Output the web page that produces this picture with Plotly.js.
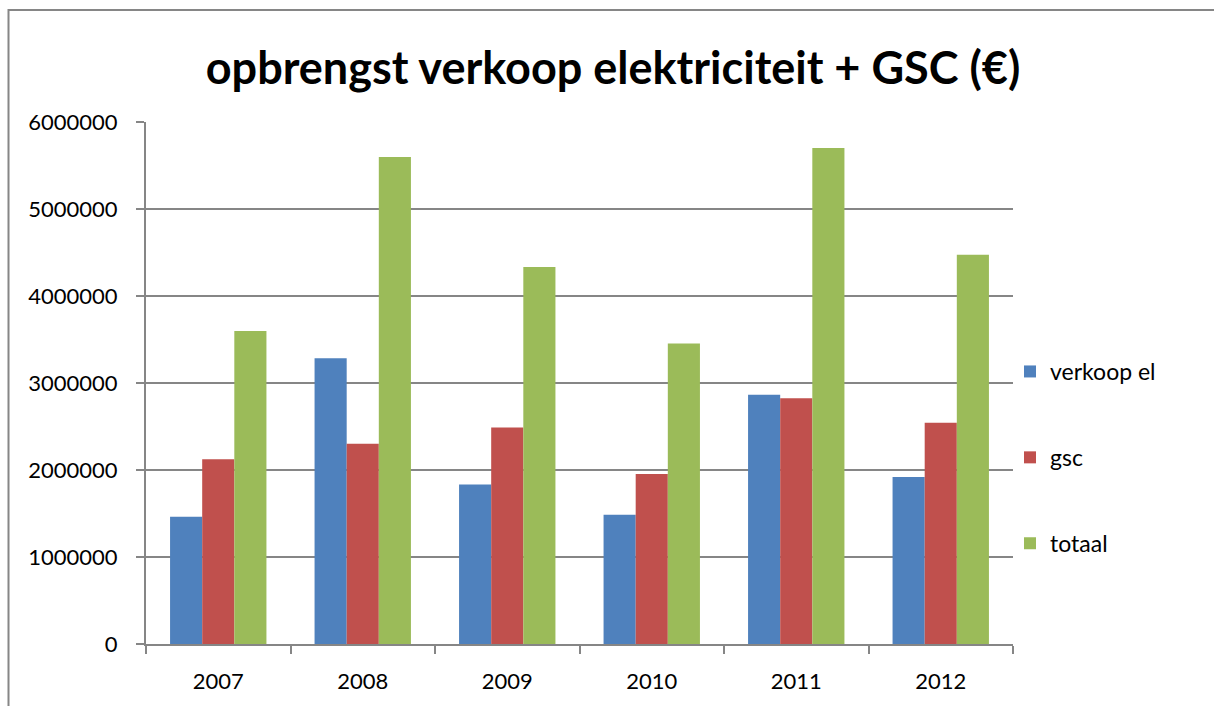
<!DOCTYPE html>
<html>
<head>
<meta charset="utf-8">
<script src="https://cdn.plot.ly/plotly-3.0.1.min.js"></script>
<style>html,body{margin:0;padding:0;background:#fff;}#chart{width:1214px;height:706px;}</style>
</head>
<body>
<div id="chart"></div>
<script>
const years = ["2007", "2008", "2009", "2010", "2011", "2012"];
const verkoopEl = [1462000, 3285000, 1834000, 1485000, 2864000, 1919000];
const gsc = [2125000, 2301000, 2488000, 1953000, 2824000, 2543000];
const totaal = [3599000, 5598000, 4334000, 3453000, 5700000, 4474000];
const seriesNames = ["verkoop el", "gsc", "totaal"];
const yTicks = [0, 1000000, 2000000, 3000000, 4000000, 5000000, 6000000];

const colors = ["#4F81BD", "#C0504D", "#9BBB59"];
const seriesData = [verkoopEl, gsc, totaal];

const traces = seriesData.map((vals, i) => ({
  type: "bar",
  name: seriesNames[i],
  x: years,
  y: vals,
  legendgroup: "g" + i,
  marker: {color: colors[i], line: {width: 0}},
  hoverinfo: "x+y+name"
}));

const W = 1214, H = 706;
const L = 146, R = 1013, T = 122, B = 644;
const pw = R - L, ph = B - T;
const px = v => (v - L) / pw;
const py = v => (B - v) / ph;
const FONT = "Lato, 'Open Sans', sans-serif";

const layout = {
  width: W, height: H,
  margin: {l: L, r: W - R, t: T, b: H - B, pad: 0},
  paper_bgcolor: "#ffffff",
  plot_bgcolor: "#ffffff",
  font: {family: FONT, color: "#000000", size: 22},
  title: {
    text: "<b>opbrengst verkoop elektriciteit + GSC (€)</b>",
    font: {family: FONT, size: 45, color: "#000"},
    x: 613 / W, xanchor: "center", xref: "container",
    y: 1 - 68 / H, yanchor: "middle", yref: "container"
  },
  barmode: "group",
  bargap: 0.333,
  bargroupgap: 0,
  xaxis: {
    type: "category",
    tickson: "boundaries",
    ticks: "outside",
    ticklen: 8,
    tickcolor: "#868686",
    tickwidth: 2,
    showline: true,
    linecolor: "#868686",
    linewidth: 2,
    showgrid: false,
    ticklabelstandoff: 17,
    tickfont: {size: 22, family: FONT},
    fixedrange: true
  },
  yaxis: {
    range: [0, 6000000],
    tickvals: yTicks,
    ticktext: yTicks.map(v => String(v)),
    ticks: "outside",
    ticklen: 8,
    tickcolor: "#868686",
    tickwidth: 2,
    showline: true,
    linecolor: "#868686",
    linewidth: 2,
    showgrid: true,
    gridcolor: "#868686",
    gridwidth: 2,
    zeroline: false,
    ticklabelstandoff: 14,
    tickfont: {size: 22, family: FONT},
    fixedrange: true
  },
  showlegend: true,
  legend: {
    x: px(1010), xanchor: "left",
    y: py(350), yanchor: "top",
    font: {size: 23, family: FONT},
    traceorder: "grouped",
    tracegroupgap: 53,
    bgcolor: "rgba(0,0,0,0)",
    itemwidth: 30
  },
  shapes: [{
    type: "rect", xref: "paper", yref: "paper",
    x0: px(8.5), x1: px(1230), y0: py(730), y1: py(10),
    line: {color: "#868686", width: 2}, fillcolor: "rgba(0,0,0,0)", layer: "below"
  }]
};

Plotly.newPlot("chart", traces, layout, {displayModeBar: false, staticPlot: true});
</script>
</body>
</html>
